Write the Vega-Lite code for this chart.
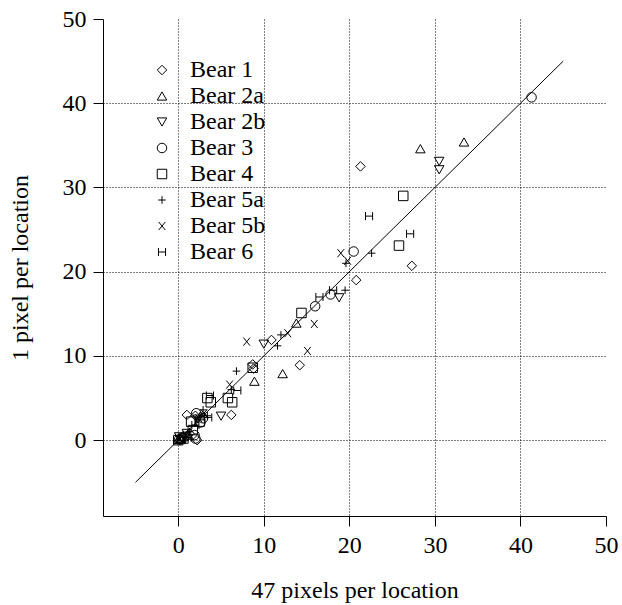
{
  "$schema": "https://vega.github.io/schema/vega-lite/v6.json",
  "width": 503,
  "height": 497,
  "autosize": {"type": "none"},
  "padding": {"left": 103, "top": 19, "right": 16, "bottom": 89},
  "background": "white",
  "config": {
    "view": {"stroke": null},
    "font": "Liberation Serif",
    "axis": {
      "labelFont": "Liberation Serif",
      "titleFont": "Liberation Serif",
      "labelFontSize": 24,
      "titleFontSize": 24,
      "titleFontWeight": "normal",
      "labelColor": "black",
      "titleColor": "black",
      "domainColor": "black",
      "domainWidth": 1,
      "tickColor": "black",
      "tickSize": 10,
      "tickWidth": 1,
      "labelFlush": false,
      "labelOverlap": false,
      "grid": true,
      "gridColor": "black",
      "gridDash": [1, 2],
      "gridWidth": 1
    }
  },
  "layer": [
    {
      "data": {
        "values": [
          {"bear": "Bear 1", "x": 21.3, "y": 32.5},
          {"bear": "Bear 1", "x": 27.3, "y": 20.7},
          {"bear": "Bear 1", "x": 20.8, "y": 19.0},
          {"bear": "Bear 1", "x": 14.2, "y": 8.9},
          {"bear": "Bear 1", "x": 10.9, "y": 11.9},
          {"bear": "Bear 1", "x": 8.7, "y": 9.0},
          {"bear": "Bear 1", "x": 8.8, "y": 8.5},
          {"bear": "Bear 1", "x": 6.2, "y": 3.0},
          {"bear": "Bear 1", "x": 1.0, "y": 3.0},
          {"bear": "Bear 1", "x": 2.0, "y": 2.9},
          {"bear": "Bear 1", "x": 2.2, "y": 0.0},
          {"bear": "Bear 1", "x": 0.5, "y": 0.3},
          {"bear": "Bear 1", "x": 0.2, "y": 0.0},
          {"bear": "Bear 1", "x": 1.3, "y": 0.8},
          {"bear": "Bear 2a", "x": 28.3, "y": 34.6},
          {"bear": "Bear 2a", "x": 33.4, "y": 35.4},
          {"bear": "Bear 2a", "x": 13.8, "y": 13.9},
          {"bear": "Bear 2a", "x": 12.2, "y": 7.9},
          {"bear": "Bear 2a", "x": 8.9, "y": 7.0},
          {"bear": "Bear 2a", "x": 2.6, "y": 2.9},
          {"bear": "Bear 2a", "x": 0.3, "y": 0.2},
          {"bear": "Bear 2a", "x": 1.2, "y": 0.6},
          {"bear": "Bear 2a", "x": 0.0, "y": 0.1},
          {"bear": "Bear 2b", "x": 30.5, "y": 33.1},
          {"bear": "Bear 2b", "x": 30.5, "y": 32.1},
          {"bear": "Bear 2b", "x": 18.8, "y": 16.9},
          {"bear": "Bear 2b", "x": 10.0, "y": 11.4},
          {"bear": "Bear 2b", "x": 5.0, "y": 2.85},
          {"bear": "Bear 2b", "x": 2.3, "y": 2.5},
          {"bear": "Bear 2b", "x": 1.0, "y": 0.8},
          {"bear": "Bear 2b", "x": 0.4, "y": 0.0},
          {"bear": "Bear 2b", "x": 0.1, "y": 0.4},
          {"bear": "Bear 3", "x": 41.3, "y": 40.7},
          {"bear": "Bear 3", "x": 20.5, "y": 22.4},
          {"bear": "Bear 3", "x": 17.8, "y": 17.3},
          {"bear": "Bear 3", "x": 16.0, "y": 15.9},
          {"bear": "Bear 3", "x": 2.1, "y": 3.2},
          {"bear": "Bear 3", "x": 2.9, "y": 2.6},
          {"bear": "Bear 3", "x": 2.6, "y": 2.1},
          {"bear": "Bear 3", "x": 1.9, "y": 0.6},
          {"bear": "Bear 3", "x": 2.0, "y": 0.2},
          {"bear": "Bear 3", "x": 0.1, "y": 0.1},
          {"bear": "Bear 3", "x": 0.7, "y": 0.4},
          {"bear": "Bear 4", "x": 26.3, "y": 29.0},
          {"bear": "Bear 4", "x": 25.8, "y": 23.1},
          {"bear": "Bear 4", "x": 14.4, "y": 15.1},
          {"bear": "Bear 4", "x": 8.7, "y": 8.6},
          {"bear": "Bear 4", "x": 5.8, "y": 5.0},
          {"bear": "Bear 4", "x": 6.3, "y": 4.5},
          {"bear": "Bear 4", "x": 3.4, "y": 5.0},
          {"bear": "Bear 4", "x": 3.8, "y": 4.5},
          {"bear": "Bear 4", "x": 1.5, "y": 2.2},
          {"bear": "Bear 4", "x": 2.5, "y": 2.2},
          {"bear": "Bear 4", "x": 1.7, "y": 1.2},
          {"bear": "Bear 4", "x": 0.0, "y": 0.0},
          {"bear": "Bear 4", "x": 0.6, "y": 0.2},
          {"bear": "Bear 5a", "x": 22.6, "y": 22.2},
          {"bear": "Bear 5a", "x": 19.6, "y": 21.0},
          {"bear": "Bear 5a", "x": 19.5, "y": 17.8},
          {"bear": "Bear 5a", "x": 12.0, "y": 12.5},
          {"bear": "Bear 5a", "x": 11.6, "y": 11.2},
          {"bear": "Bear 5a", "x": 6.8, "y": 8.2},
          {"bear": "Bear 5a", "x": 6.2, "y": 6.0},
          {"bear": "Bear 5a", "x": 2.9, "y": 3.6},
          {"bear": "Bear 5a", "x": 3.4, "y": 2.9},
          {"bear": "Bear 5a", "x": 1.3, "y": 1.0},
          {"bear": "Bear 5a", "x": 0.2, "y": 0.3},
          {"bear": "Bear 5a", "x": 0.8, "y": 0.0},
          {"bear": "Bear 5b", "x": 19.0, "y": 22.2},
          {"bear": "Bear 5b", "x": 19.8, "y": 21.3},
          {"bear": "Bear 5b", "x": 15.9, "y": 13.8},
          {"bear": "Bear 5b", "x": 15.1, "y": 10.6},
          {"bear": "Bear 5b", "x": 12.8, "y": 12.7},
          {"bear": "Bear 5b", "x": 8.0, "y": 11.7},
          {"bear": "Bear 5b", "x": 6.0, "y": 6.6},
          {"bear": "Bear 5b", "x": 3.0, "y": 3.2},
          {"bear": "Bear 5b", "x": 2.4, "y": 2.6},
          {"bear": "Bear 5b", "x": 0.9, "y": 0.6},
          {"bear": "Bear 5b", "x": 0.0, "y": 0.3},
          {"bear": "Bear 6", "x": 22.3, "y": 26.6},
          {"bear": "Bear 6", "x": 27.1, "y": 24.5},
          {"bear": "Bear 6", "x": 18.1, "y": 17.8},
          {"bear": "Bear 6", "x": 16.5, "y": 17.0},
          {"bear": "Bear 6", "x": 6.9, "y": 5.9},
          {"bear": "Bear 6", "x": 3.7, "y": 5.3},
          {"bear": "Bear 6", "x": 3.5, "y": 2.7},
          {"bear": "Bear 6", "x": 2.0, "y": 1.8},
          {"bear": "Bear 6", "x": 1.1, "y": 0.3},
          {"bear": "Bear 6", "x": 0.3, "y": 0.0}
        ]
      },
      "mark": {"type": "point", "filled": false, "color": "black", "size": 90, "strokeWidth": 1, "opacity": 1},
      "encoding": {
        "x": {
          "field": "x",
          "type": "quantitative",
          "scale": {"domain": [-8.8, 50], "nice": false, "zero": false},
          "axis": {
            "title": "47 pixels per location",
            "values": [0, 10, 20, 30, 40, 50],
            "labelPadding": 7,
            "titlePadding": 21,
            "gridOpacity": {"condition": {"test": "datum.value >= 50", "value": 0}, "value": 1}
          }
        },
        "y": {
          "field": "y",
          "type": "quantitative",
          "scale": {"domain": [-9, 50], "nice": false, "zero": false},
          "axis": {
            "title": "1 pixel per location",
            "values": [0, 10, 20, 30, 40, 50],
            "labelPadding": 7,
            "titlePadding": 30,
            "gridOpacity": {"condition": {"test": "datum.value >= 50", "value": 0}, "value": 1}
          }
        },
        "shape": {
          "field": "bear",
          "type": "nominal",
          "scale": {
            "domain": ["Bear 1", "Bear 2a", "Bear 2b", "Bear 3", "Bear 4", "Bear 5a", "Bear 5b", "Bear 6"],
            "range": ["diamond", "triangle-up", "triangle-down", "circle", "square", "M-0.8,0H0.8M0,-0.8V0.8", "M-0.7,-0.85L0.7,0.85M-0.7,0.85L0.7,-0.85", "M-0.75,-0.85V0.85M0.75,-0.85V0.85M-0.75,0H0.75"]
          },
          "legend": {
            "title": null,
            "orient": "none",
            "legendX": 47,
            "legendY": 39,
            "padding": 0,
            "rowPadding": 2,
            "labelFont": "Liberation Serif",
            "labelFontSize": 24,
            "labelColor": "black",
            "labelOffset": 16,
            "symbolSize": 90,
            "symbolStrokeWidth": 1,
            "symbolStrokeColor": "black"
          }
        }
      }
    },
    {
      "data": {"values": [{"x": -5, "y": -5}, {"x": 45, "y": 45}]},
      "mark": {"type": "line", "color": "black", "strokeWidth": 1},
      "encoding": {
        "x": {"field": "x", "type": "quantitative"},
        "y": {"field": "y", "type": "quantitative"}
      }
    }
  ]
}
